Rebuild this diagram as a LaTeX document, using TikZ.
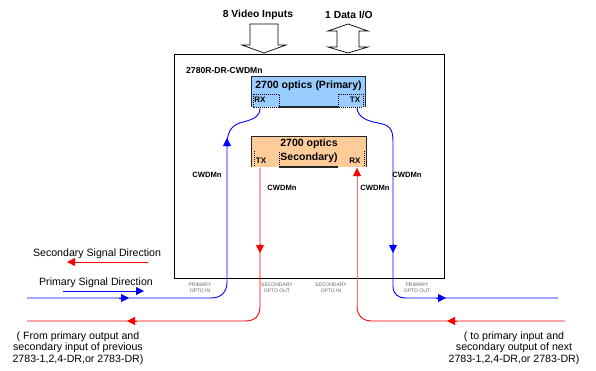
\documentclass[tikz,border=0pt]{standalone}
\usepackage{fontspec}
\setmainfont{Liberation Sans}
\usetikzlibrary{arrows.meta}
\definecolor{primfill}{RGB}{153,204,255}
\definecolor{secfill}{RGB}{255,204,153}
\definecolor{pblue}{RGB}{0,0,255}
\definecolor{sred}{RGB}{255,0,0}
\definecolor{sredlight}{RGB}{255,110,110}
\definecolor{smallgray}{RGB}{100,100,100}
\begin{document}
\begin{tikzpicture}[x=1pt,y=-1pt,
  toplbl/.style={font=\fontsize{10.3}{12}\selectfont\bfseries, inner sep=0},
  optlbl/.style={font=\fontsize{10.5}{12}\selectfont\bfseries, inner sep=0},
  portlbl/.style={font=\fontsize{8}{9}\selectfont\bfseries, inner sep=0},
  cwdm/.style={font=\fontsize{7.6}{9}\selectfont\bfseries, inner sep=0},
  legendtxt/.style={font=\fontsize{10.6}{12}\selectfont, inner sep=0},
  bottxt/.style={font=\fontsize{10.6}{11.6}\selectfont, inner sep=0, align=center},
  smalltxt/.style={font=\fontsize{5}{5.8}\selectfont, text=smallgray, inner sep=0, align=center},
  pri/.style={draw=pblue, line width=0.9pt},
  sec/.style={draw=sred, line width=0.9pt},
  seclight/.style={draw=sredlight, line width=0.9pt},
  tipp/.style={-{Triangle[width=8pt,length=8pt]}},
  hollow/.style={draw=black, fill=white, line width=0.7pt},
  dashbox/.style={draw=black, line width=0.5pt, dash pattern=on 1pt off 1pt},
  border/.style={draw=black!85, line width=1.2pt}
]
\useasboundingbox (0,0) rectangle (596,370);
\fill[white] (0,0) rectangle (596,370);

% outer unit box
\node[draw=black, line width=1pt, minimum width=270pt, minimum height=224pt, inner sep=0] (unit) at (309,166) {};
\node[font=\fontsize{8.6}{10}\selectfont\bfseries, inner sep=0, anchor=west] (unitlbl) at (186,71) {2780R-DR-CWDMn};

% top labels and hollow arrows
\node[toplbl] (vid) at (258,15) {8 Video Inputs};
\node[toplbl] (dio) at (349,15) {1 Data I/O};
\draw[hollow] (250,24) -- (278,24) -- (278,45) -- (286,45) -- (264,53) -- (242,45) -- (250,45) -- cycle;
\draw[hollow] (348,24) -- (368,31) -- (359,31) -- (359,47) -- (368,47) -- (348,53) -- (328,47) -- (337,47) -- (337,31) -- (328,31) -- cycle;

% primary optics
\node[fill=primfill, minimum width=113pt, minimum height=30pt, inner sep=0] (prim) at (308.5,92) {};
\draw[border] (prim.south west) -- (prim.north west) -- (prim.north east) -- (prim.south east);
\draw[border] (279,107) -- (338,107);
\node[optlbl] (primtxt) at (308.5,86) {2700 optics (Primary)};
\draw[dashbox] (253,94) rectangle (279,107);
\draw[dashbox] (338,94) rectangle (363,107);
\node[portlbl] (rxPl) at (260,100) {RX};
\node[portlbl] (txPl) at (355,100) {TX};
\coordinate (rxP) at (260,108);
\coordinate (txP) at (357,108);

% secondary optics
\node[fill=secfill, minimum width=114pt, minimum height=30pt, inner sep=0] (secb) at (309,152) {};
\draw[border] (secb.south west) -- (secb.north west) -- (secb.north east) -- (secb.south east);
\draw[border] (279,167) -- (338,167);
\node[optlbl] (sectxt1) at (309,144) {2700 optics};
\node[optlbl] (sectxt2) at (309,158) {Secondary)};
\draw[dashbox] (254,151) -- (254,166);
\draw[dashbox] (279,152) -- (279,165);
\draw[dashbox] (364,151) -- (364,166);
\node[portlbl] (txSl) at (261,161) {TX};
\node[portlbl] (rxSl) at (355,161) {RX};
\coordinate (txS) at (260,167.5);
\coordinate (rxS) at (357,168);

% end points
\coordinate (inL) at (27,298);
\coordinate (outR) at (558,298);
\coordinate (outL) at (27,321);
\coordinate (inR) at (565,321);

% primary path (blue)
\draw[pri] (inL) -- (211,298) .. controls (221,298) and (227,292) .. (227,282) -- (227,145)
  .. controls (227,128) and (235,124) .. (243,122) .. controls (255,119) and (260,116) .. (rxP);
\draw[pri] (txP) .. controls (358,118) and (368,121) .. (378,123) .. controls (390,125) and (393,129) .. (393,142)
  -- (393,286) .. controls (393,294) and (398,298) .. (406,298) -- (outR);

% secondary path (red)
\draw[sec] (txS) -- (260,306) .. controls (260,316) and (255,321) .. (245,321) -- (outL);
\draw[sec] (inR) -- (372,321) .. controls (363,321) and (357,316) .. (357,306);
\draw[seclight] (357,306) -- (rxS);

% arrowheads on paths
\draw[pri, tipp] (227,147) -- (227,138);
\draw[pri, tipp] (119,298) -- (129,298);
\draw[pri, tipp] (393,244) -- (393,253);
\draw[pri, tipp] (436,298) -- (446,298);
\draw[sec, tipp] (260,244) -- (260,253);
\draw[sec, tipp] (137,321) -- (127,321);
\draw[sec, tipp] (457,321) -- (447,321);
\draw[sec, tipp] (357,177) -- (357,168);

% CWDMn labels
\node[cwdm] (cw1) at (207,175) {CWDMn};
\node[cwdm] (cw2) at (282,188) {CWDMn};
\node[cwdm] (cw3) at (375,188) {CWDMn};
\node[cwdm] (cw4) at (407,175) {CWDMn};

% small port labels
\node[smalltxt] (p1) at (200,288) {PRIMARY\\OPTO IN};
\node[smalltxt] (p2) at (277,288) {SECONDARY\\OPTO OUT};
\node[smalltxt] (p3) at (331,288) {SECONDARY\\OPTO IN};
\node[smalltxt] (p4) at (417,288) {PRIMARY\\OPTO OUT};

% legend
\node[legendtxt] (seclg) at (97,254) {Secondary Signal Direction};
\coordinate (slA) at (148,262);
\coordinate (slB) at (67,262);
\draw[sec, tipp] (slA) -- (slB);
\node[legendtxt] (prilg) at (96,283) {Primary Signal Direction};
\coordinate (plA) at (63,291);
\coordinate (plB) at (144,291);
\draw[pri, tipp] (plA) -- (plB);

% bottom notes
\node[bottxt] (noteL) at (78,348) {( From primary output and\\secondary input of previous\\2783-1,2,4-DR,or 2783-DR)};
\node[bottxt] (noteR) at (514,348) {( to primary input and\\secondary output of next\\2783-1,2,4-DR,or 2783-DR)};
\end{tikzpicture}
\end{document}
